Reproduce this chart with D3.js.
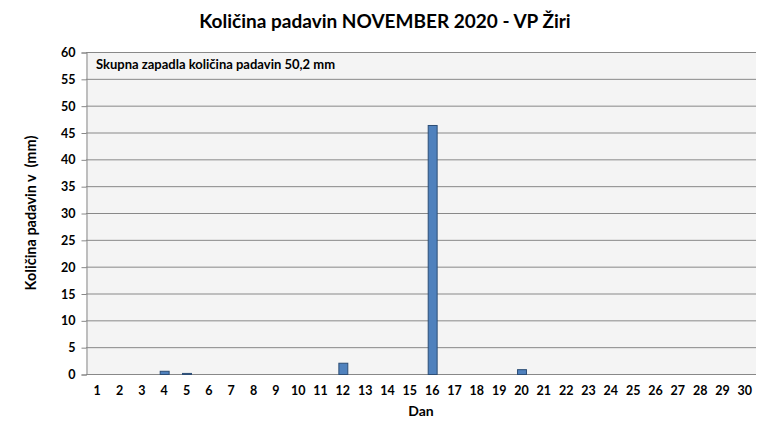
<!DOCTYPE html>
<html>
<head>
<meta charset="utf-8">
<script src="https://cdn.jsdelivr.net/npm/d3@7"></script>
<style>
body { margin: 0; background: #fff; }
text { font-family: Lato, "Open Sans", sans-serif; font-weight: bold; }
</style>
</head>
<body>
<div class="chart"></div>
<script>
var days = d3.range(1, 31);
// dnevna kolicina padavin (mm), samo dnevi z dezjem
var rainDays = [4, 5, 12, 16, 20];
var rainValues = [0.6, 0.2, 2.1, 46.4, 0.9];
var yTicks = [0, 5, 10, 15, 20, 25, 30, 35, 40, 45, 50, 55, 60];

var title = "Količina padavin NOVEMBER 2020 - VP Žiri";
var note = "Skupna zapadla količina padavin 50,2 mm";

var dataset = days.map(function (d) {
	var i = rainDays.indexOf(d);
	return { day: d, val: i < 0 ? 0 : rainValues[i] };
});

var width = 770, height = 439;
var plotLeft = 86, plotRight = 756, plotTop = 52, plotBottom = 374;

var svg = d3.select(".chart").append("svg")
	.attr("width", width)
	.attr("height", height);

var x = d3.scaleBand()
	.domain(days)
	.range([plotLeft, plotRight])
	.paddingInner(0.6)
	.paddingOuter(0.3);

var y = d3.scaleLinear()
	.domain([0, 60])
	.range([plotBottom, plotTop]);

svg.append("rect")
	.attr("x", plotLeft).attr("y", plotTop)
	.attr("width", plotRight - plotLeft).attr("height", plotBottom - plotTop)
	.attr("fill", "#f4f4f4");

// gridlines
svg.append("g").selectAll("line")
	.data(yTicks)
	.enter().append("line")
	.attr("x1", plotLeft).attr("x2", plotRight)
	.attr("y1", function (d) { return y(d) + 0.5; })
	.attr("y2", function (d) { return y(d) + 0.5; })
	.attr("stroke", "#888")
	.attr("stroke-width", 1);

var yAxis = svg.append("g")
	.attr("transform", "translate(" + (plotLeft + 0.5) + ",0.5)")
	.call(d3.axisLeft(y).tickValues(yTicks).tickSize(5).tickPadding(6));
yAxis.select(".domain").attr("stroke", "#888");
yAxis.selectAll(".tick line").attr("stroke", "#888");
yAxis.selectAll("text")
	.attr("font-size", 12.5).attr("fill", "#000")
	.style("font-family", "Lato, sans-serif").style("font-weight", "bold");

var xAxis = svg.append("g")
	.attr("transform", "translate(0," + plotBottom + ")")
	.call(d3.axisBottom(x).tickSize(0).tickPadding(12));
xAxis.select(".domain").remove();
xAxis.selectAll("text")
	.attr("font-size", 12.5).attr("fill", "#000")
	.style("font-family", "Lato, sans-serif").style("font-weight", "bold");

svg.append("g").selectAll("rect")
	.data(dataset.filter(function (d) { return d.val > 0; }))
	.enter().append("rect")
	.attr("x", function (d) { return x(d.day) + 0.5; })
	.attr("y", function (d) { return y(d.val) + 0.5; })
	.attr("width", x.bandwidth())
	.attr("height", function (d) { return y(0) - y(d.val); })
	.attr("fill", "#4f81bd")
	.attr("stroke", "#2c4d75")
	.attr("stroke-width", 1);

svg.append("text")
	.attr("x", 385).attr("y", 28)
	.attr("text-anchor", "middle")
	.attr("font-size", 19)
	.text(title);

svg.append("text")
	.attr("x", 96).attr("y", 69)
	.attr("font-size", 13)
	.text(note);

svg.append("text")
	.attr("transform", "translate(36,213) rotate(-90)")
	.attr("text-anchor", "middle")
	.attr("font-size", 14.5)
	.style("white-space", "pre")
	.text("Količina padavin v  (mm)");

svg.append("text")
	.attr("x", 421).attr("y", 416)
	.attr("text-anchor", "middle")
	.attr("font-size", 14)
	.text("Dan");
</script>
</body>
</html>
